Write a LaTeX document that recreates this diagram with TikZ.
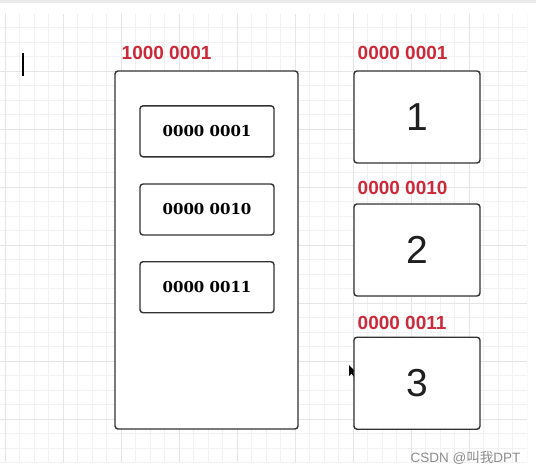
\documentclass[tikz,border=0pt]{standalone}
\usepackage{fontspec}
\setmainfont{Liberation Sans}
\newfontfamily\cellfont{DejaVu Serif}
\newfontfamily\cjkfont{Noto Sans CJK SC}
\definecolor{addrred}{RGB}{204,42,58}
\definecolor{boxline}{RGB}{50,50,50}
\definecolor{minorgrid}{RGB}{241,241,243}
\definecolor{majorgrid}{RGB}{229,229,232}
\begin{document}
\begin{tikzpicture}[x=1pt,y=-1pt,
    mem/.style={draw=boxline,line width=1.4pt,rounded corners=3pt,fill=white,inner sep=0pt},
    cell/.style={mem,minimum width=134pt,minimum height=51pt,font=\cellfont\bfseries\fontsize{15}{17}\selectfont},
    slot/.style={mem,minimum width=126pt,minimum height=92pt,text=black!88,font=\fontsize{39}{41}\selectfont},
    addr/.style={anchor=west,inner sep=0pt,text=addrred,font=\bfseries\fontsize{19}{21}\selectfont}]
\useasboundingbox (0,0) rectangle (536,474);
\fill[white] (0,0) rectangle (536,474);
\fill[black!8] (0,0) rectangle (536,2.5);

% grid
\begin{scope}
\clip (0,14) rectangle (527,462);
\foreach \i in {0,...,36}{
    \draw[minorgrid,line width=0.8pt] ({5.3+14.5*\i},14)--++(0,448);
}
\foreach \i in {0,...,31}{
    \draw[minorgrid,line width=0.8pt] (0,{13.2+14.5*\i})--++(527,0);
}
\foreach \i in {0,...,9}{
    \draw[majorgrid,line width=0.9pt] ({5.3+58*\i},14)--++(0,448);
}
\foreach \i in {0,...,8}{
    \draw[majorgrid,line width=0.9pt] (0,{13.2+58*\i})--++(527,0);
}
\end{scope}

% cursors
\draw[line width=2.4pt] (23,53)--(23,76);
\fill[black] (349,365)--(349,376)--(351.5,373.5)--(354,377)--(355.5,376)--(353,372.5)--(356,372)--cycle;

% memory block
\node[mem,minimum width=183pt,minimum height=358pt] (block) at (206.5,250) {};
\node[cell] (c1) at (207,131.3) {0000 0001};
\node[cell] (c2) at (207,209.5) {0000 0010};
\node[cell] (c3) at (207,287.2) {0000 0011};
\node[addr] (blockaddr) at (121.5,53) {1000 0001};

% slots
\node[slot] (s1) at (417,117) {1};
\node[slot] (s2) at (417,250) {2};
\node[slot] (s3) at (417,383.2) {3};
\node[addr] (a1) at (357.5,53) {0000 0001};
\node[addr] (a2) at (357.5,188.3) {0000 0010};
\node[addr] (a3) at (357.5,323) {0000 0011};

\node[anchor=west,inner sep=0pt,text=black!45,font=\fontsize{13.5}{15}\selectfont] (mark) at (410.5,457.5) {CSDN @{\cjkfont 叫我}DPT};
\end{tikzpicture}
\end{document}
